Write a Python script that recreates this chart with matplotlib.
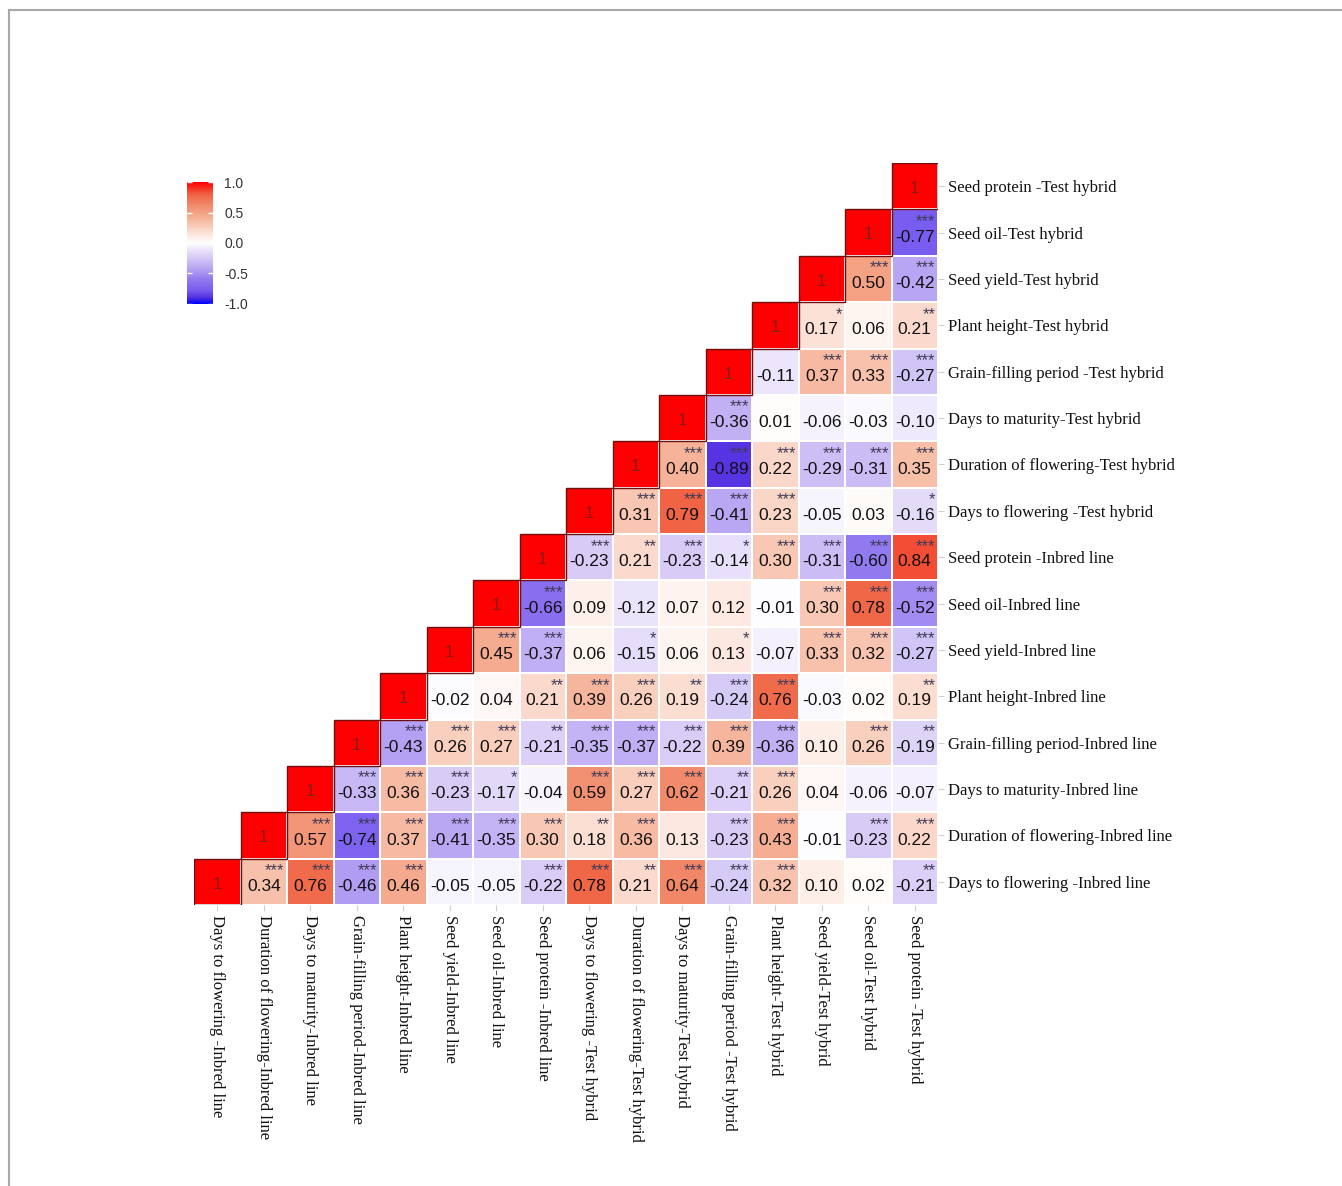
import numpy as np
import matplotlib
matplotlib.use("Agg")
import matplotlib.pyplot as plt
from matplotlib.colors import LinearSegmentedColormap
from matplotlib.patches import Rectangle

traits = [
    "Days to flowering -Inbred line",
    "Duration of flowering-Inbred line",
    "Days to maturity-Inbred line",
    "Grain-filling period-Inbred line",
    "Plant height-Inbred line",
    "Seed yield-Inbred line",
    "Seed oil-Inbred line",
    "Seed protein -Inbred line",
    "Days to flowering -Test hybrid",
    "Duration of flowering-Test hybrid",
    "Days to maturity-Test hybrid",
    "Grain-filling period -Test hybrid",
    "Plant height-Test hybrid",
    "Seed yield-Test hybrid",
    "Seed oil-Test hybrid",
    "Seed protein -Test hybrid",
]

# correlations of each trait with itself and the traits after it
r_df_i   = [1, 0.34, 0.76, -0.46, 0.46, -0.05, -0.05, -0.22, 0.78, 0.21, 0.64, -0.24, 0.32, 0.10, 0.02, -0.21]
r_durf_i = [1, 0.57, -0.74, 0.37, -0.41, -0.35, 0.30, 0.18, 0.36, 0.13, -0.23, 0.43, -0.01, -0.23, 0.22]
r_dm_i   = [1, -0.33, 0.36, -0.23, -0.17, -0.04, 0.59, 0.27, 0.62, -0.21, 0.26, 0.04, -0.06, -0.07]
r_gfp_i  = [1, -0.43, 0.26, 0.27, -0.21, -0.35, -0.37, -0.22, 0.39, -0.36, 0.10, 0.26, -0.19]
r_ph_i   = [1, -0.02, 0.04, 0.21, 0.39, 0.26, 0.19, -0.24, 0.76, -0.03, 0.02, 0.19]
r_sy_i   = [1, 0.45, -0.37, 0.06, -0.15, 0.06, 0.13, -0.07, 0.33, 0.32, -0.27]
r_so_i   = [1, -0.66, 0.09, -0.12, 0.07, 0.12, -0.01, 0.30, 0.78, -0.52]
r_sp_i   = [1, -0.23, 0.21, -0.23, -0.14, 0.30, -0.31, -0.60, 0.84]
r_df_t   = [1, 0.31, 0.79, -0.41, 0.23, -0.05, 0.03, -0.16]
r_durf_t = [1, 0.40, -0.89, 0.22, -0.29, -0.31, 0.35]
r_dm_t   = [1, -0.36, 0.01, -0.06, -0.03, -0.10]
r_gfp_t  = [1, -0.11, 0.37, 0.33, -0.27]
r_ph_t   = [1, 0.17, 0.06, 0.21]
r_sy_t   = [1, 0.50, -0.42]
r_so_t   = [1, -0.77]
r_sp_t   = [1]

# significance marks, same layout as the correlations
s_df_i   = ["", "***", "***", "***", "***", "", "", "***", "***", "**", "***", "***", "***", "", "", "**"]
s_durf_i = ["", "***", "***", "***", "***", "***", "***", "**", "***", "", "***", "***", "", "***", "***"]
s_dm_i   = ["", "***", "***", "***", "*", "", "***", "***", "***", "**", "***", "", "", ""]
s_gfp_i  = ["", "***", "***", "***", "**", "***", "***", "***", "***", "***", "", "***", "**"]
s_ph_i   = ["", "", "", "**", "***", "***", "**", "***", "***", "", "", "**"]
s_sy_i   = ["", "***", "***", "", "*", "", "*", "", "***", "***", "***"]
s_so_i   = ["", "***", "", "", "", "", "", "***", "***", "***"]
s_sp_i   = ["", "***", "**", "***", "*", "***", "***", "***", "***"]
s_df_t   = ["", "***", "***", "***", "***", "", "", "*"]
s_durf_t = ["", "***", "***", "***", "***", "***", "***"]
s_dm_t   = ["", "***", "", "", "", ""]
s_gfp_t  = ["", "", "***", "***", "***"]
s_ph_t   = ["", "*", "", "**"]
s_sy_t   = ["", "***", "***"]
s_so_t   = ["", "***"]
s_sp_t   = [""]

corr_rows = [r_df_i, r_durf_i, r_dm_i, r_gfp_i, r_ph_i, r_sy_i, r_so_i, r_sp_i,
             r_df_t, r_durf_t, r_dm_t, r_gfp_t, r_ph_t, r_sy_t, r_so_t, r_sp_t]
star_rows = [s_df_i, s_durf_i, s_dm_i, s_gfp_i, s_ph_i, s_sy_i, s_so_i, s_sp_i,
             s_df_t, s_durf_t, s_dm_t, s_gfp_t, s_ph_t, s_sy_t, s_so_t, s_sp_t]

n = len(traits)
mat = np.full((n, n), np.nan)
for r, vals in enumerate(corr_rows):
    for k, v in enumerate(vals):
        mat[r, r + k] = v

cmap = LinearSegmentedColormap.from_list(
    "bwr_soft",
    [(0.0, "#0000FF"), (0.055, "#5634e2"), (0.115, "#7a5ef0"), (0.2, "#9179ef"),
     (0.29, "#b8a5f3"), (0.4, "#ddd2f8"), (0.5, "#FFFFFF"), (0.6, "#fbdccf"),
     (0.7, "#f6b49a"), (0.8, "#f29070"), (0.9, "#f06244"), (1.0, "#FF0000")])

fig = plt.figure(figsize=(13.42, 11.86), dpi=100)
fig.patch.set_facecolor("white")

# page frame lines
fig.add_artist(plt.Line2D([9 / 1342, 1.0], [1 - 10 / 1186] * 2, color="#a8a8a8", lw=1.5))
fig.add_artist(plt.Line2D([9 / 1342] * 2, [0.0, 1 - 10 / 1186], color="#a8a8a8", lw=1.5))

ax = fig.add_axes([194 / 1342, 1 - 905 / 1186, 744 / 1342, 742 / 1186])
masked = np.ma.masked_invalid(mat)
ax.pcolormesh(np.arange(n + 1), np.arange(n + 1), masked, cmap=cmap, vmin=-1, vmax=1,
              edgecolors="white", linewidth=1.2)
ax.set_xlim(0, n)
ax.set_ylim(0, n)

num_font = dict(family=["Liberation Sans", "DejaVu Sans"])
for r in range(n):
    for c in range(r, n):
        v = mat[r, c]
        if r == c:
            ax.add_patch(Rectangle((c, r), 1, 1, fill=False, edgecolor="#6e1010", lw=1.0))
            ax.text(c + 0.5, r + 0.45, "1", ha="center", va="center", fontsize=12,
                    color="#8a1a1a", **num_font)
        else:
            ax.text(c + 0.5, r + 0.40, f"{v:.2f}", ha="center", va="center", fontsize=12.5,
                    color="#111111", **num_font)
            st = star_rows[r][c - r]
            if st:
                ax.text(c + 0.95, r + 0.90, st, ha="right", va="top", fontsize=12,
                        color="#3e3a55", **num_font)

label_font = dict(family=["Liberation Serif", "DejaVu Serif"])
ax.set_xticks(np.arange(n) + 0.5)
ax.set_yticks(np.arange(n) + 0.5)
ax.set_xticklabels(traits, rotation=270, ha="center", va="top", fontsize=12,
                   color="#111111", **label_font)
ax.set_yticklabels(traits, fontsize=12, color="#111111", **label_font)
ax.yaxis.tick_right()
ax.tick_params(axis="both", length=4, width=0.8, color="#d0d0d0", pad=3)
for sp in ax.spines.values():
    sp.set_visible(False)

# colour legend
cax = fig.add_axes([187 / 1342, 1 - 305 / 1186, 26 / 1342, 124 / 1186])
grad = np.linspace(-1, 1, 256).reshape(-1, 1)
cax.imshow(grad, cmap=cmap, vmin=-1, vmax=1, origin="lower", aspect="auto",
           extent=[0, 1, -1, 1])
cbar_ticks = [-1.0, -0.5, 0.0, 0.5, 1.0]
cbar_labels = ["-1.0", "-0.5", "0.0", "0.5", "1.0"]
cax.hlines(cbar_ticks, 0, 0.2, colors="white", lw=1)
cax.hlines(cbar_ticks, 0.8, 1, colors="white", lw=1)
cax.set_xlim(0, 1)
cax.set_ylim(-1.02, 1.02)
cax.set_xticks([])
cax.yaxis.tick_right()
cax.set_yticks(cbar_ticks)
cax.set_yticklabels(cbar_labels, fontsize=10, color="#333333", **num_font)
cax.tick_params(axis="y", length=0, pad=8)
for sp in cax.spines.values():
    sp.set_visible(False)

fig.savefig("out.png", dpi=100, facecolor="white")
